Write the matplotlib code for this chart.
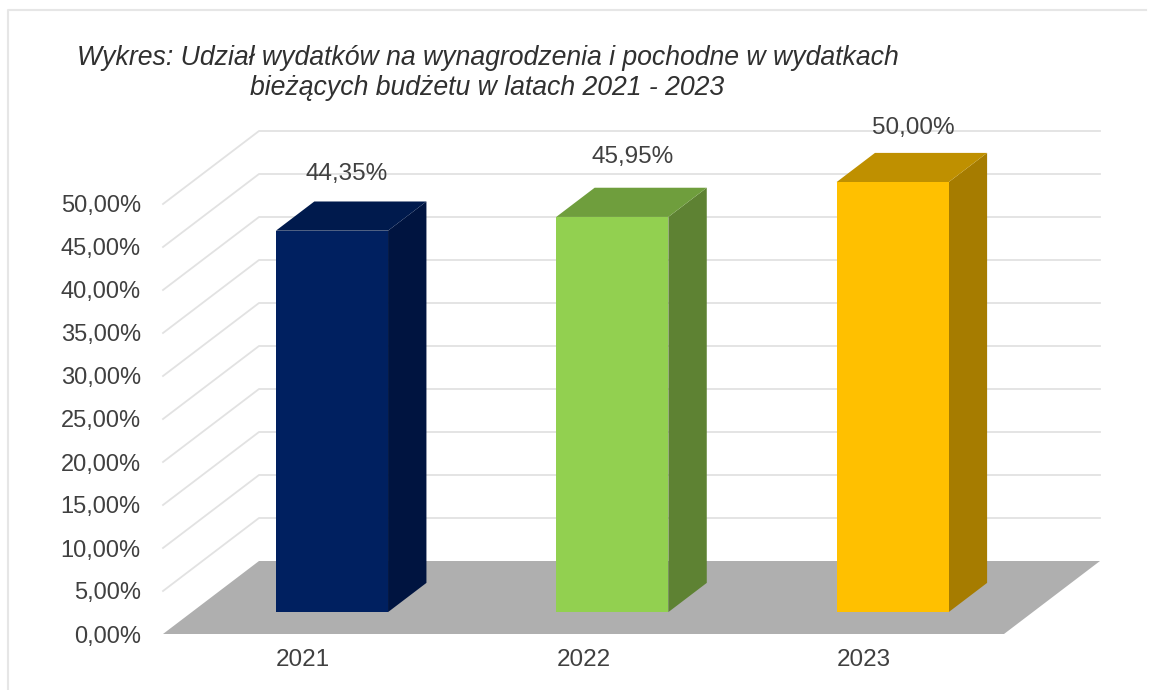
#!/usr/bin/env python3

import matplotlib
matplotlib.use('Agg')
import matplotlib.pyplot as plt
from matplotlib.lines import Line2D
import numpy as np

years = ['2021', '2022', '2023']
shares = [44.35, 45.95, 50.00]
share_labels = ['44,35%', '45,95%', '50,00%']
ytick_values = [0, 5, 10, 15, 20, 25, 30, 35, 40, 45, 50]
ytick_labels = ['0,00%', '5,00%', '10,00%', '15,00%', '20,00%', '25,00%',
                '30,00%', '35,00%', '40,00%', '45,00%', '50,00%']
title_lines = ['Wykres: Udział wydatków na wynagrodzenia i pochodne w wydatkach',
               'bieżących budżetu w latach 2021 - 2023']

front_colors = ['#002060', '#92D050', '#FFC000']
side_colors = ['#001440', '#5E8233', '#A67C00']
top_colors = ['#001A4D', '#6F9E3D', '#BF9000']
text_color = '#404040'
grid_color = '#E2E2E2'
floor_color = '#AFAFAF'

W, H = 1152, 690
bar_width = 0.4
bar_near, bar_far = 0.3, 0.7
# label offset from the front top corner centre, in pixels
label_offsets = [(15, 57), (20, 60), (21, 54)]

matplotlib.rcParams['font.family'] = ['Liberation Sans', 'DejaVu Sans']

fig = plt.figure(figsize=(W / 100, H / 100), dpi=100)
ax = fig.add_axes([163 / W, 1 - 634 / H, 841 / W, 516 / H])
ax.set_xlim(0, 3)
ax.set_ylim(0, 60)
for spine in ax.spines.values():
    spine.set_visible(False)
ax.patch.set_visible(False)

# depth shift of the oblique view, in data units for depth 1
depth_x = 96 / (841 / 3)
depth_y = 73 / 8.6


def project(x, y, depth):
    return x + depth * depth_x, y + depth * depth_y


def face(points, color, zorder):
    xy = np.array([project(*p) for p in points])
    ax.fill(xy[:, 0], xy[:, 1], color=color, linewidth=0, zorder=zorder, clip_on=False)


# back wall grid, running along the side wall first
for value in ytick_values[1:]:
    x0, y0 = project(0, value, 0)
    x1, y1 = project(0, value, 1)
    x2, y2 = project(3, value, 1)
    ax.plot([x0, x1, x2], [y0, y1, y2], color=grid_color, linewidth=1.3,
            zorder=1, clip_on=False, solid_joinstyle='miter')

face([(0, 0, 0), (3, 0, 0), (3, 0, 1), (0, 0, 1)], floor_color, 2)

centers = np.arange(len(years)) + 0.5
for i, share in enumerate(shares):
    left = centers[i] - bar_width / 2
    right = centers[i] + bar_width / 2
    face([(right, 0, bar_near), (right, 0, bar_far), (right, share, bar_far), (right, share, bar_near)],
         side_colors[i], 3)
    face([(left, share, bar_near), (right, share, bar_near), (right, share, bar_far), (left, share, bar_far)],
         top_colors[i], 3)
    face([(left, 0, bar_near), (right, 0, bar_near), (right, share, bar_near), (left, share, bar_near)],
         front_colors[i], 4)
    ax.annotate(share_labels[i], xy=project(centers[i], share, bar_near),
                xytext=(label_offsets[i][0] * 0.72, label_offsets[i][1] * 0.72),
                textcoords='offset points', ha='center', va='center',
                fontsize=17.5, color=text_color, zorder=5, annotation_clip=False)

ax.set_yticks(ytick_values)
ax.set_yticklabels(ytick_labels, fontsize=17, color=text_color)
ax.set_xticks(centers)
ax.set_xticklabels(years, fontsize=17.5, color=text_color)
ax.tick_params(axis='y', length=0, pad=16)
ax.tick_params(axis='x', length=0, pad=11)

fig.text(77 / W, 1 - 58 / H, title_lines[0], fontsize=19.2, style='italic',
         color='#303030', ha='left', va='center')
fig.text(250 / W, 1 - 88 / H, title_lines[1], fontsize=19.2, style='italic',
         color='#303030', ha='left', va='center')

# thin picture frame, top and left only
fig.add_artist(Line2D([8 / W, 8 / W, 1 - 6 / W], [0, 1 - 10 / H, 1 - 10 / H],
                      color='#E6E6E6', linewidth=1.5))

plt.savefig('out.png', dpi=100)
plt.close()
